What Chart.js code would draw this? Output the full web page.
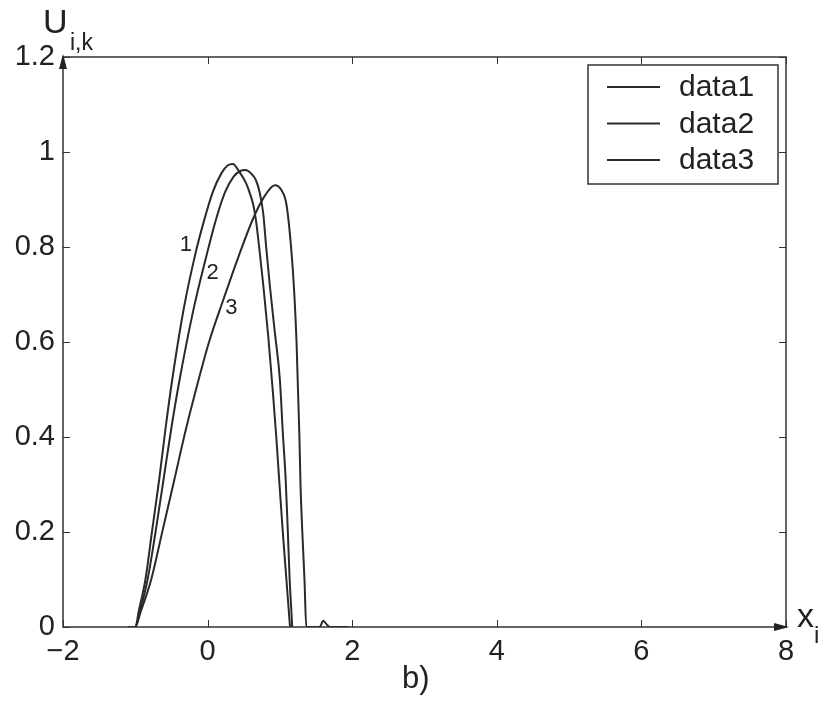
<!doctype html>
<html lang="en">
<head>
<meta charset="utf-8">
<title>U i,k</title>
<style>
  html, body { margin: 0; padding: 0; background: #fff; }
  #wrap { width: 826px; height: 706px; }
</style>
</head>
<body>
<div id="wrap"><canvas id="myChart" width="826" height="706"></canvas></div>

<script src="https://cdn.jsdelivr.net/npm/chart.js"></script>
<script>
// values
var seriesNames = ['data1', 'data2', 'data3'];
var curveTags = ['1', '2', '3'];

var x1 = [-1.10, -1.00, -0.95, -0.86, -0.77, -0.67, -0.58, -0.49, -0.33, -0.17, -0.05, 0.07, 0.19, 0.28, 0.35, 0.44, 0.53, 0.58, 0.63, 0.67, 0.72, 0.77, 0.84, 0.90, 0.95, 0.99, 1.04, 1.09, 1.12, 1.14];
var y1 = [0, 0, 0.035, 0.10, 0.20, 0.31, 0.42, 0.52, 0.67, 0.785, 0.855, 0.915, 0.955, 0.972, 0.975, 0.958, 0.935, 0.915, 0.89, 0.855, 0.79, 0.72, 0.61, 0.50, 0.40, 0.31, 0.20, 0.10, 0.04, 0];

var x2 = [-1.10, -1.00, -0.94, -0.83, -0.72, -0.61, -0.50, -0.40, -0.20, -0.01, 0.12, 0.24, 0.36, 0.45, 0.525, 0.60, 0.67, 0.72, 0.77, 0.81, 0.86, 0.93, 1.00, 1.04, 1.08, 1.11, 1.135, 1.16, 1.17];
var y2 = [0, 0, 0.03, 0.10, 0.20, 0.31, 0.42, 0.51, 0.665, 0.785, 0.86, 0.915, 0.948, 0.96, 0.962, 0.955, 0.94, 0.915, 0.87, 0.80, 0.72, 0.62, 0.52, 0.41, 0.31, 0.20, 0.10, 0.03, 0];

var x3 = [-1.10, -1.00, -0.93, -0.78, -0.62, -0.46, -0.31, -0.16, 0.02, 0.22, 0.44, 0.63, 0.78, 0.93, 1.02, 1.09, 1.16, 1.20, 1.23, 1.25, 1.27, 1.285, 1.31, 1.34, 1.365, 1.55, 1.60, 1.65, 1.69, 1.95];
var y3 = [0, 0, 0.03, 0.10, 0.205, 0.31, 0.41, 0.50, 0.60, 0.69, 0.785, 0.86, 0.905, 0.93, 0.92, 0.89, 0.79, 0.70, 0.60, 0.50, 0.40, 0.30, 0.20, 0.10, 0, 0, 0.013, 0.005, 0, 0];

// where the little "1 2 3" tags sit, in data units
var tagX = [-0.30, 0.07, 0.33];
var tagY = [0.805, 0.745, 0.672];

var xTicks = [-2, 0, 2, 4, 6, 8];
var yTicks = [0, 0.2, 0.4, 0.6, 0.8, 1, 1.2];

var FONT = '"Liberation Sans", Arial, Helvetica, sans-serif';
var INK = '#222';

function pts(xs, ys) {
    var out = [];
    for (var i = 0; i < xs.length; i++) out.push({x: xs[i], y: ys[i]});
    return out;
}

function fmt(v) {
    var s = String(Math.round(v * 10) / 10);
    return s.replace('-', '\u2212');
}

// box, inward ticks, arrows, legend and the text labels
var decor = {
    id: 'decor',
    beforeDatasetsDraw: function(chart) {
        var c = chart.ctx, a = chart.chartArea;
        var xs = chart.scales.x, ys = chart.scales.y;
        c.save();
        c.strokeStyle = '#333';
        c.lineWidth = 1.5;
        c.strokeRect(a.left, a.top, a.right - a.left, a.bottom - a.top);
        c.lineWidth = 1;
        c.beginPath();
        xTicks.forEach(function(t) {
            var p = Math.round(xs.getPixelForValue(t)) + 0.5;
            c.moveTo(p, a.bottom); c.lineTo(p, a.bottom - 7);
            c.moveTo(p, a.top); c.lineTo(p, a.top + 7);
        });
        yTicks.forEach(function(t) {
            var p = Math.round(ys.getPixelForValue(t)) + 0.5;
            c.moveTo(a.left, p); c.lineTo(a.left + 7, p);
            c.moveTo(a.right, p); c.lineTo(a.right - 7, p);
        });
        c.stroke();
        c.restore();
    },
    afterDraw: function(chart) {
        var c = chart.ctx, a = chart.chartArea;
        var xs = chart.scales.x, ys = chart.scales.y;
        c.save();
        c.fillStyle = INK;

        // arrow heads
        c.beginPath();
        c.moveTo(a.left, a.top - 3);
        c.lineTo(a.left - 4, a.top + 12);
        c.lineTo(a.left + 4, a.top + 12);
        c.closePath();
        c.fill();
        c.beginPath();
        c.moveTo(a.right + 3, a.bottom);
        c.lineTo(a.right - 12, a.bottom - 4);
        c.lineTo(a.right - 12, a.bottom + 4);
        c.closePath();
        c.fill();

        // axis names
        c.textAlign = 'left';
        c.textBaseline = 'alphabetic';
        c.font = '34px ' + FONT;
        c.fillText('U', 43, 33);
        c.font = '23px ' + FONT;
        c.fillText('i,k', 70, 50);
        c.font = '34px ' + FONT;
        c.fillText('x', 797, 627);
        c.font = '24px ' + FONT;
        c.fillText('i', 814, 643);
        c.font = '31px ' + FONT;
        c.fillText('b)', 402, 688);

        // curve tags
        c.font = '22px ' + FONT;
        c.textAlign = 'center';
        c.textBaseline = 'middle';
        for (var i = 0; i < curveTags.length; i++) {
            c.fillText(curveTags[i], xs.getPixelForValue(tagX[i]), ys.getPixelForValue(tagY[i]));
        }

        // legend
        var bx = 588, by = 65, bw = 190, bh = 119;
        c.fillStyle = '#fff';
        c.fillRect(bx, by, bw, bh);
        c.strokeStyle = '#333';
        c.lineWidth = 1.5;
        c.strokeRect(bx, by, bw, bh);
        c.font = '30px ' + FONT;
        c.textAlign = 'left';
        c.textBaseline = 'middle';
        chart.data.datasets.forEach(function(ds, k) {
            var ry = by + 22 + k * 36.5;
            c.strokeStyle = ds.borderColor;
            c.lineWidth = 2;
            c.beginPath();
            c.moveTo(bx + 19, ry); c.lineTo(bx + 72, ry);
            c.stroke();
            c.fillStyle = INK;
            c.fillText(ds.label, bx + 91, ry + 1);
        });
        c.restore();
    }
};

var ctx = document.getElementById('myChart');
var lines = [pts(x1, y1), pts(x2, y2), pts(x3, y3)];

new Chart(ctx, {
    type: 'scatter',
    data: {
        datasets: lines.map(function(d, i) {
            return {
                label: seriesNames[i],
                data: d,
                showLine: true,
                borderColor: '#2a2a2a',
                borderWidth: 2,
                pointRadius: 0,
                cubicInterpolationMode: 'monotone'
            };
        })
    },
    options: {
        responsive: false,
        animation: false,
        devicePixelRatio: 1,
        layout: { padding: { top: 57, right: 40, left: 0, bottom: 0 } },
        plugins: {
            legend: { display: false },
            tooltip: { enabled: false },
            title: { display: false }
        },
        scales: {
            x: {
                type: 'linear',
                min: -2, max: 8,
                grid: { display: false, drawTicks: false },
                border: { display: false },
                afterBuildTicks: function(s) { s.ticks = xTicks.map(function(v) { return {value: v}; }); },
                afterFit: function(s) { s.height = 79; },
                ticks: {
                    padding: 8,
                    color: INK,
                    font: { family: FONT, size: 29 },
                    maxRotation: 0,
                    callback: function(v) { return fmt(v); }
                }
            },
            y: {
                type: 'linear',
                min: 0, max: 1.2,
                grid: { display: false, drawTicks: false },
                border: { display: false },
                afterBuildTicks: function(s) { s.ticks = yTicks.map(function(v) { return {value: v}; }); },
                afterFit: function(s) { s.width = 63; },
                ticks: {
                    padding: 8,
                    color: INK,
                    font: { family: FONT, size: 29 },
                    callback: function(v) { return fmt(v); }
                }
            }
        }
    },
    plugins: [decor]
});
</script>
</body>
</html>
